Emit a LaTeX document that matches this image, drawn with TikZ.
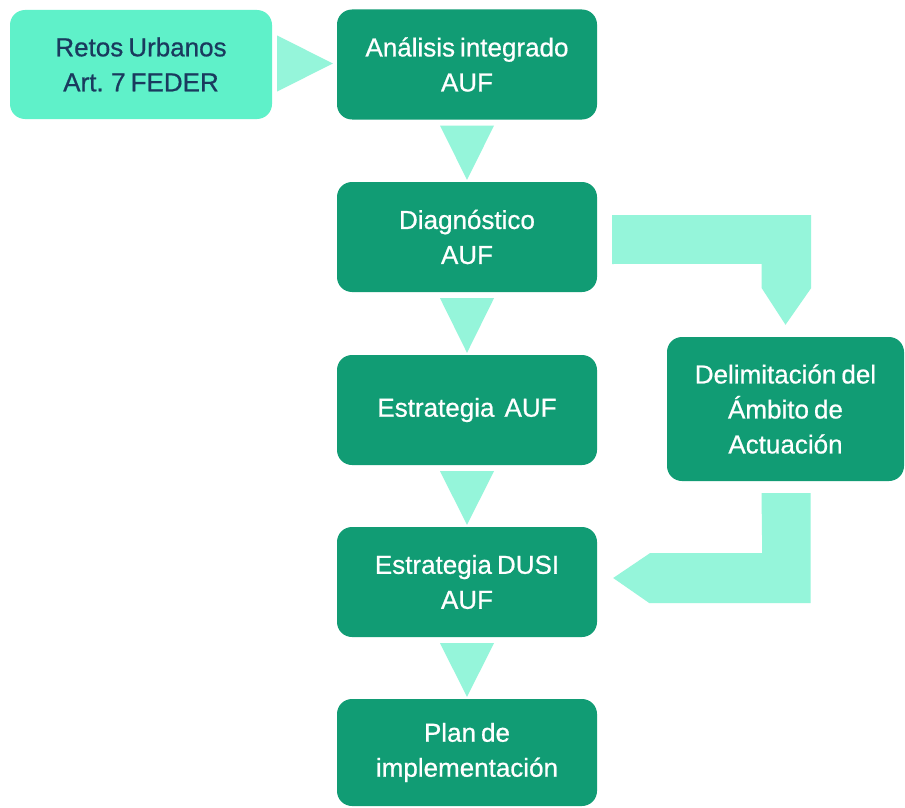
\documentclass[tikz,border=0pt]{standalone}
\usepackage{fontspec}
\setmainfont{Liberation Sans}[FakeBold=0.7, WordSpace=0.7]
\usetikzlibrary{calc}
\definecolor{dgreen}{HTML}{119C74}
\definecolor{mint}{HTML}{5FF1C9}
\definecolor{arrowc}{HTML}{95F5DA}
\definecolor{navy}{HTML}{1A3A5E}
\tikzset{
  box/.style={rounded corners=15pt, fill=dgreen, text=white, align=center,
    minimum width=260pt, minimum height=110pt, inner sep=0pt,
    font=\fontsize{26}{35}\selectfont},
  inbox/.style={box, fill=mint, text=navy, minimum width=262pt, minimum height=109pt},
  sidebox/.style={box, minimum width=237pt, minimum height=144pt},
  blockarrow/.style={fill=arrowc, draw=none}
}
\begin{document}
\begin{tikzpicture}[x=1pt,y=-1pt]
\fill[white] (0,0) rectangle (905,808);
\useasboundingbox (0,0) rectangle (905,808);
\node[inbox] (retos) at (141,64.5) {Retos Urbanos\\Art. 7 FEDER};
\node[box] (analisis) at (467,64.5) {Análisis integrado\\AUF};
\node[box] (diag) at (467,237) {Diagnóstico\\AUF};
\node[box] (estr) at (467,410) {Estrategia~ AUF};
\node[box] (dusi) at (467,582) {Estrategia DUSI\\AUF};
\node[box, minimum height=107pt] (plan) at (467,752.5) {Plan de\\implementación};
\node[sidebox] (delim) at (785.5,409) {Delimitación del\\Ámbito de\\Actuación};
% right triangle
\fill[blockarrow] ($(retos.east)+(5,-29)$) -- ($(analisis.west)+(-4,-1)$) -- ($(retos.east)+(5,27)$) -- cycle;
% down triangles
\foreach \a/\b in {analisis/diag, diag/estr, estr/dusi, dusi/plan}{
  \fill[blockarrow] ($(\a.south)+(-27,6)$) -- ($(\b.north)+(0,-2)$) -- ($(\a.south)+(27,6)$) -- cycle;
}
% bent arrow diag -> delim
\fill[blockarrow] ($(diag.east)+(15,-22)$) -- ++(199,0) -- ++(0,73) -- ($(delim.north)+(0,-12)$)
  -- ++(-24,-37) -- ++(0,-24) -- ($(diag.east)+(15,27)$) -- cycle;
% bent arrow delim -> dusi
\fill[blockarrow] ($(delim.south)+(-24,12)$) -- ++(49,0) -- ++(0,110) -- ++(-161,0)
  -- ($(dusi.east)+(16,-4)$) -- ++(37,-25) -- ++(112,0) -- cycle;
\end{tikzpicture}
\end{document}
